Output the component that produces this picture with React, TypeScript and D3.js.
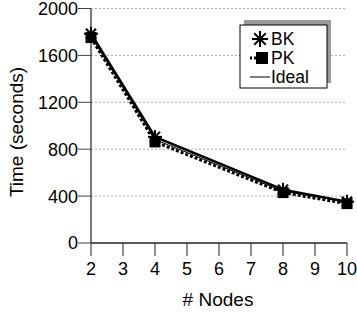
import React from "react";
import * as d3 from "d3";

const nodes = [2, 4, 8, 10];
const bkTimes = [1785, 905, 455, 352];
const pkTimes = [1752, 862, 430, 336];
const idealTimes = [1765, 882, 441, 353];
const xTicks = [2, 3, 4, 5, 6, 7, 8, 9, 10];
const yTicks = [0, 400, 800, 1200, 1600, 2000];
const legendItems = ["BK", "PK", "Ideal"];

const W = 357, H = 312;
const FONT = "Liberation Sans, Arial, sans-serif";

export default function App() {
  const x = d3.scaleLinear().domain([2, 10]).range([91, 347]);
  const y = d3.scaleLinear().domain([0, 2000]).range([243, 8.5]);
  const line = d3.line<number>().x((_, i) => x(nodes[i])).y((d) => y(d));

  const star = (cx: number, cy: number, r: number, key: string) => (
    <g key={key} stroke="#000" strokeWidth={2}>
      <line x1={cx - r} y1={cy} x2={cx + r} y2={cy} />
      <line x1={cx} y1={cy - r} x2={cx} y2={cy + r} />
      <line x1={cx - r * 0.72} y1={cy - r * 0.72} x2={cx + r * 0.72} y2={cy + r * 0.72} />
      <line x1={cx - r * 0.72} y1={cy + r * 0.72} x2={cx + r * 0.72} y2={cy - r * 0.72} />
    </g>
  );
  const square = (cx: number, cy: number, s: number, key: string) => (
    <rect key={key} x={cx - s / 2} y={cy - s / 2} width={s} height={s} fill="#000" />
  );

  const legX = 240, legY = 25, legW = 87, legH = 63;

  return (
    <svg width={W} height={H} style={{ position: "absolute", left: 0, top: 0, background: "#fff" }} fontFamily={FONT}>
      {yTicks.filter((t) => t > 0).map((t) => (
        <line key={"g" + t} x1={x(2)} x2={x(10)} y1={y(t)} y2={y(t)} stroke="#aaa" strokeWidth={1} strokeDasharray="2,2" />
      ))}
      <line x1={x(2)} x2={x(2)} y1={y(2000)} y2={y(0)} stroke="#222" strokeWidth={1.2} />
      <line x1={x(2)} x2={x(10)} y1={y(0)} y2={y(0)} stroke="#222" strokeWidth={1.5} />
      {yTicks.map((t) => (
        <g key={"y" + t}>
          <line x1={x(2) - 13} x2={x(2)} y1={y(t)} y2={y(t)} stroke="#444" strokeWidth={1} />
          <text x={x(2) - 13} y={y(t)} dy="0.36em" textAnchor="end" fontSize={18} fill="#000">{t}</text>
        </g>
      ))}
      {xTicks.map((t) => (
        <g key={"x" + t}>
          <line x1={x(t)} x2={x(t)} y1={y(0)} y2={y(0) + 13} stroke="#222" strokeWidth={1} />
          <text x={x(t)} y={275} textAnchor="middle" fontSize={18} fill="#000">{t}</text>
        </g>
      ))}
      <text x={218} y={306} textAnchor="middle" fontSize={19} fill="#000"># Nodes</text>
      <text transform={`translate(23,132) rotate(-90)`} textAnchor="middle" fontSize={19} fill="#000">Time (seconds)</text>

      <path d={line(pkTimes) || ""} fill="none" stroke="#000" strokeWidth={3} strokeDasharray="3,2" />
      <path d={line(idealTimes) || ""} fill="none" stroke="#000" strokeWidth={1} />
      <path d={line(bkTimes) || ""} fill="none" stroke="#000" strokeWidth={2.5} />
      {bkTimes.map((v, i) => star(x(nodes[i]), y(v), 7, "s" + i))}
      {pkTimes.map((v, i) => square(x(nodes[i]), y(v), 11, "q" + i))}

      <rect x={legX + 4} y={legY - 5} width={legW} height={legH} fill="#9a9a9a" />
      <rect x={legX} y={legY} width={legW} height={legH} fill="#fff" stroke="#000" strokeWidth={1} />
      {legendItems.map((name, i) => {
        const cy = 39 + i * 19;
        return (
          <g key={name}>
            {i === 0 && star(260, cy, 8, "ls")}
            {i === 1 && (
              <g>
                <line x1={250} x2={260} y1={cy} y2={cy} stroke="#000" strokeWidth={3} strokeDasharray="2,2" />
                {square(262, cy, 12, "lq")}
              </g>
            )}
            {i === 2 && <line x1={250} x2={270} y1={cy} y2={cy} stroke="#000" strokeWidth={1} />}
            <text x={271} y={cy} dy="0.36em" fontSize={17.5} fill="#000">{name}</text>
          </g>
        );
      })}
    </svg>
  );
}
